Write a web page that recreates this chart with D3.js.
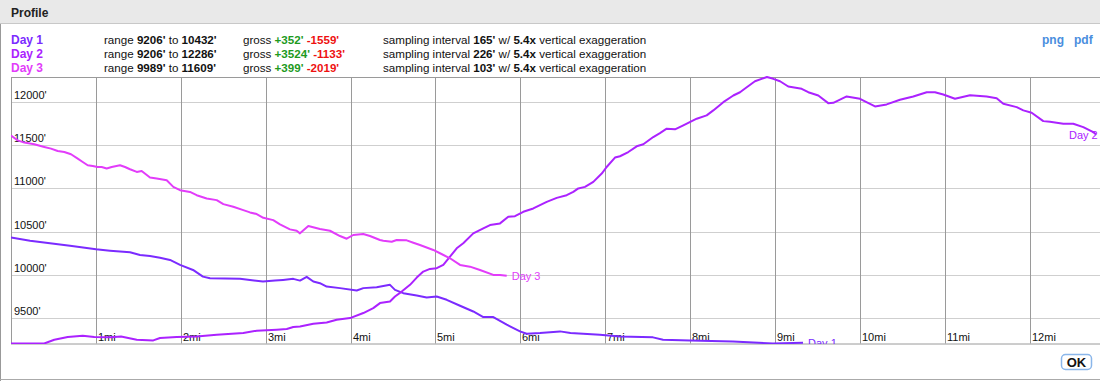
<!DOCTYPE html>
<html><head><meta charset="utf-8">
<script src="https://cdn.jsdelivr.net/npm/d3@7"></script>
<style>
html,body{margin:0;padding:0;background:#fff;}
svg{display:block;font-family:"Liberation Sans",Arial,Helvetica,sans-serif;}
</style></head>
<body>
<svg id="c" width="1100" height="381"></svg>
<script>
// ---- data (miles, feet) ----
const seriesNames = ["Day 1", "Day 2", "Day 3"];
const seriesColors = ["#7b2bff", "#ab22ff", "#e23cfa"];
const rangeLo = ["9206'", "9206'", "9989'"];
const rangeHi = ["10432'", "12286'", "11609'"];
const grossUp = ["+352'", "+3524'", "+399'"];
const grossDown = ["-1559'", "-1133'", "-2019'"];
const sampling = ["165'", "226'", "103'"];
const exaggeration = "5.4x";
const mileTicks = [1,2,3,4,5,6,7,8,9,10,11,12];
const feetTicks = [9500,10000,10500,11000,11500,12000];

const day1 = [
[0,10432],[0.224,10394],[0.459,10364],[0.695,10336],[1.001,10295],[1.166,10279],[1.402,10260],
[1.519,10229],[1.637,10218],[1.755,10198],[1.873,10172],[1.991,10114],[2.144,10056],[2.261,9979],
[2.344,9961],[2.697,9953],[2.815,9941],[2.968,9922],[3.110,9933],[3.204,9941],[3.325,9953],
[3.404,9933],[3.483,9976],[3.561,9922],[3.639,9903],[3.718,9864],[3.875,9846],[4.072,9818],
[4.150,9846],[4.307,9857],[4.464,9884],[4.523,9826],[4.621,9788],[4.779,9760],[4.896,9737],
[5.014,9749],[5.132,9711],[5.289,9642],[5.445,9576],[5.563,9512],[5.681,9512],[5.839,9423],
[5.995,9346],[6.074,9319],[6.231,9327],[6.467,9346],[6.590,9327],[6.937,9308],[7.173,9288],
[7.562,9277],[7.680,9250],[7.998,9242],[8.504,9230],[8.975,9206],[9.329,9215]
];
const day2 = [
[0,9206],[0.392,9206],[0.510,9250],[0.668,9281],[0.845,9296],[0.981,9281],[1.178,9277],[1.296,9288],
[1.481,9250],[1.676,9242],[1.755,9270],[1.952,9281],[2.187,9288],[2.423,9308],[2.736,9327],
[2.894,9354],[3.130,9365],[3.248,9373],[3.325,9396],[3.404,9403],[3.561,9434],[3.718,9449],
[3.836,9480],[3.993,9500],[4.150,9558],[4.267,9615],[4.346,9673],[4.464,9691],[4.523,9749],
[4.602,9806],[4.700,9884],[4.779,9968],[4.856,10037],[4.935,10068],[5.014,10076],[5.092,10114],
[5.171,10210],[5.250,10306],[5.327,10364],[5.445,10479],[5.563,10537],[5.642,10575],[5.760,10594],
[5.857,10670],[5.936,10678],[6.034,10728],[6.152,10767],[6.310,10843],[6.428,10889],[6.545,10920],
[6.623,10958],[6.682,10998],[6.761,11016],[6.859,11074],[6.958,11170],[7.016,11246],[7.114,11355],
[7.173,11370],[7.271,11419],[7.370,11485],[7.448,11508],[7.565,11592],[7.644,11638],[7.723,11689],
[7.821,11681],[7.919,11727],[8.077,11804],[8.194,11842],[8.272,11900],[8.390,11995],[8.508,12072],
[8.587,12110],[8.666,12168],[8.763,12237],[8.904,12286],[8.979,12265],[9.058,12237],[9.155,12176],
[9.313,12150],[9.391,12110],[9.509,12072],[9.626,11984],[9.686,11988],[9.843,12061],[10.000,12034],
[10.177,11946],[10.314,11969],[10.471,12023],[10.628,12061],[10.786,12110],[10.883,12110],
[10.981,12084],[11.119,12034],[11.296,12076],[11.492,12061],[11.610,12041],[11.688,11977],
[11.846,11938],[11.924,11900],[12.022,11873],[12.159,11776],[12.238,11769],[12.395,11746],
[12.512,11746],[12.630,11707],[12.748,11650],[12.780,11620]
];
const day3 = [
[0,11609],[0.079,11554],[0.157,11528],[0.274,11508],[0.392,11477],[0.471,11458],[0.550,11431],
[0.628,11419],[0.707,11393],[0.786,11343],[0.845,11304],[0.903,11266],[0.962,11258],[1.021,11246],
[1.068,11246],[1.127,11228],[1.186,11246],[1.284,11266],[1.343,11246],[1.402,11220],[1.481,11189],
[1.539,11200],[1.637,11124],[1.716,11113],[1.834,11093],[1.912,11016],[1.991,10978],[2.108,10958],
[2.187,10920],[2.305,10882],[2.423,10863],[2.501,10817],[2.618,10786],[2.736,10748],[2.815,10721],
[2.894,10702],[2.972,10659],[3.089,10632],[3.168,10583],[3.286,10525],[3.365,10509],[3.404,10479],
[3.502,10563],[3.639,10529],[3.757,10509],[3.875,10448],[3.954,10417],[4.031,10460],[4.149,10471],
[4.228,10448],[4.346,10402],[4.385,10394],[4.484,10382],[4.543,10402],[4.661,10398],[4.739,10371],
[4.817,10344],[4.974,10287],[5.053,10249],[5.171,10191],[5.289,10114],[5.406,10094],[5.524,10056],
[5.681,9999],[5.760,9999],[5.839,9989]
];
const allSeries = [day1, day2, day3];

// ---- layout ----
const W = 1100, H = 381;
const plotL = 11, plotR = 1100, plotT = 77, plotB = 343.5;
const LF = 11.6;
const svg = d3.select("#c");

// title bar
svg.append("rect").attr("x",0).attr("y",0).attr("width",W).attr("height",23).attr("fill","#e9e9e9");
svg.append("line").attr("x1",0).attr("x2",W).attr("y1",23.5).attr("y2",23.5).attr("stroke","#c8c8c8");
svg.append("text").attr("x",11).attr("y",17).attr("font-size",12).attr("font-weight","bold").attr("fill","#222").text("Profile");
// window frame
svg.append("line").attr("x1",0.5).attr("x2",0.5).attr("y1",24).attr("y2",H).attr("stroke","#999");
svg.append("line").attr("x1",0).attr("x2",W).attr("y1",379.5).attr("y2",379.5).attr("stroke","#aaa");

// legend rows
const rowY = [44, 57.8, 71.6];
seriesNames.forEach((n,i)=>{
  const y = rowY[i];
  svg.append("text").attr("x",11).attr("y",y).attr("font-size",12).attr("font-weight","bold").attr("fill",seriesColors[i]).text(n);
  const t1 = svg.append("text").attr("x",104).attr("y",y).attr("font-size",LF).attr("fill","#111");
  t1.append("tspan").text("range ");
  t1.append("tspan").attr("font-weight","bold").text(rangeLo[i]);
  t1.append("tspan").text(" to ");
  t1.append("tspan").attr("font-weight","bold").text(rangeHi[i]);
  const t2 = svg.append("text").attr("x",243).attr("y",y).attr("font-size",LF).attr("fill","#111");
  t2.append("tspan").text("gross ");
  t2.append("tspan").attr("font-weight","bold").attr("fill","#1e9a1e").text(grossUp[i]);
  t2.append("tspan").text(" ");
  t2.append("tspan").attr("font-weight","bold").attr("fill","#ee1111").text(grossDown[i]);
  const t3 = svg.append("text").attr("x",383).attr("y",y).attr("font-size",LF).attr("fill","#111");
  t3.append("tspan").text("sampling interval ");
  t3.append("tspan").attr("font-weight","bold").text(sampling[i]);
  t3.append("tspan").text(" w/ ");
  t3.append("tspan").attr("font-weight","bold").text(exaggeration);
  t3.append("tspan").text(" vertical exaggeration");
});
svg.append("text").attr("x",1042).attr("y",44).attr("font-size",12).attr("font-weight","bold").attr("fill","#4a8ede").text("png");
svg.append("text").attr("x",1074).attr("y",44).attr("font-size",12).attr("font-weight","bold").attr("fill","#4a8ede").text("pdf");

// scales
const x = d3.scaleLinear().domain([0, 12.827]).range([plotL, plotR]);
const y = d3.scaleLinear().domain([9206, 12286]).range([plotB, plotT]);

// grid
const g = svg.append("g");
g.selectAll("line.h").data(feetTicks).join("line")
  .attr("x1",plotL).attr("x2",plotR)
  .attr("y1",d=>Math.round(y(d))+0.5).attr("y2",d=>Math.round(y(d))+0.5)
  .attr("stroke","#cfcfcf").attr("stroke-width",1);
g.selectAll("line.v").data(mileTicks).join("line")
  .attr("x1",d=>Math.round(x(d))+0.5).attr("x2",d=>Math.round(x(d))+0.5)
  .attr("y1",plotT).attr("y2",plotB)
  .attr("stroke","#9a9a9a").attr("stroke-width",1);
// frame
g.append("line").attr("x1",plotL+0.5).attr("x2",plotL+0.5).attr("y1",plotT).attr("y2",plotB).attr("stroke","#9a9a9a");
g.append("line").attr("x1",plotL).attr("x2",plotR).attr("y1",plotT+0.5).attr("y2",plotT+0.5).attr("stroke","#9a9a9a");
g.append("line").attr("x1",plotL).attr("x2",plotR).attr("y1",plotB+0.5).attr("y2",plotB+0.5).attr("stroke","#9a9a9a");

// tick labels
g.selectAll("text.fl").data(feetTicks).join("text")
  .attr("x",plotL+3).attr("y",d=>Math.round(y(d))-3)
  .attr("font-size",11).attr("fill","#111").text(d=>d+"'");
g.selectAll("text.ml").data(mileTicks).join("text")
  .attr("x",d=>Math.round(x(d))+2).attr("y",plotB-3)
  .attr("font-size",11).attr("fill","#111").text(d=>d+"mi");

// clip
svg.append("clipPath").attr("id","pc").append("rect")
  .attr("x",plotL).attr("y",plotT-2).attr("width",plotR-plotL).attr("height",plotB-plotT+2.5);
const pg = svg.append("g").attr("clip-path","url(#pc)");
const line = d3.line().x(d=>x(d[0])).y(d=>y(d[1])).curve(d3.curveLinear);
allSeries.forEach((s,i)=>{
  pg.append("path").datum(s).attr("d",line).attr("fill","none")
    .attr("stroke",seriesColors[i]).attr("stroke-width",2).attr("stroke-linejoin","round");
});
allSeries.forEach((s,i)=>{
  const e = s[s.length-1];
  const lx = Math.min(x(e[0])+5, plotR-31);
  pg.append("text").attr("x",lx).attr("y",y(e[1])+4).attr("font-size",11)
    .attr("fill",seriesColors[i]).text(seriesNames[i]);
});

// OK button
svg.append("rect").attr("x",1061.5).attr("y",354.5).attr("width",30).attr("height",15).attr("rx",4)
  .attr("fill","#fff").attr("stroke","#8ab6ea").attr("stroke-width",1.5);
svg.append("text").attr("x",1076.5).attr("y",366.5).attr("text-anchor","middle").attr("font-size",13)
  .attr("font-weight","bold").attr("fill","#111").text("OK");
</script>
</body></html>
